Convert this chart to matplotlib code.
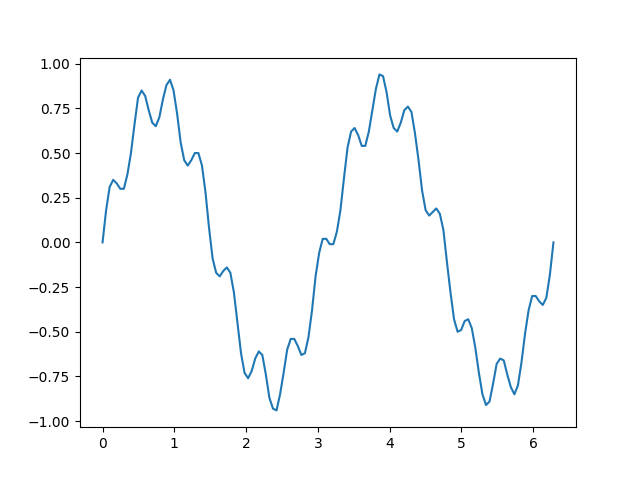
import numpy as np
import matplotlib
matplotlib.use("Agg")
import matplotlib.pyplot as plt

# values, evenly spaced over [0, 2*pi]
y = [0.00, 0.18, 0.31, 0.35, 0.33, 0.30, 0.30, 0.38, 0.50, 0.66,
     0.81, 0.85, 0.82, 0.74, 0.67, 0.65, 0.70, 0.80, 0.88, 0.91,
     0.85, 0.72, 0.56, 0.46, 0.43, 0.46, 0.50, 0.50, 0.43, 0.28,
     0.08, -0.09, -0.17, -0.19, -0.16, -0.14, -0.17, -0.28, -0.45, -0.62,
     -0.73, -0.76, -0.72, -0.65, -0.61, -0.63, -0.74, -0.87, -0.93, -0.94,
     -0.85, -0.73, -0.60, -0.54, -0.54, -0.58, -0.63, -0.62, -0.53, -0.38,
     -0.19, -0.06, 0.02, 0.02, -0.01, -0.01, 0.06, 0.18, 0.36, 0.53,
     0.62, 0.64, 0.60, 0.54, 0.54, 0.62, 0.74, 0.86, 0.94, 0.93,
     0.84, 0.71, 0.64, 0.62, 0.67, 0.74, 0.76, 0.73, 0.61, 0.46,
     0.29, 0.18, 0.15, 0.17, 0.19, 0.16, 0.07, -0.11, -0.28, -0.43,
     -0.50, -0.49, -0.44, -0.43, -0.48, -0.59, -0.73, -0.85, -0.91, -0.89,
     -0.79, -0.68, -0.65, -0.66, -0.74, -0.81, -0.85, -0.80, -0.67, -0.51,
     -0.38, -0.30, -0.30, -0.33, -0.35, -0.31, -0.18, 0.00]
x = np.linspace(0, 2 * np.pi, len(y))

fig, ax = plt.subplots(figsize=(6.4, 4.8), dpi=100)
ax.plot(x, y)
fig.savefig("out.png")
